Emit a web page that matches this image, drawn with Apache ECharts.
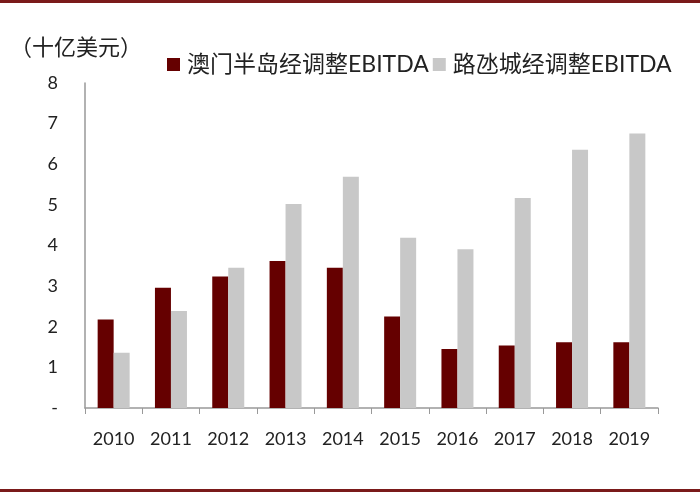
<!DOCTYPE html>
<html>
<head>
<meta charset="utf-8">
<script src="https://cdn.jsdelivr.net/npm/echarts@6/dist/echarts.min.js"></script>
<style>
html,body{margin:0;padding:0;background:#fff;}
#c{width:700px;height:493px;position:relative;}
</style>
</head>
<body>
<div id="c"></div>
<script>
var categories = ['2010','2011','2012','2013','2014','2015','2016','2017','2018','2019'];
var macauPeninsula = [2.18, 2.96, 3.24, 3.62, 3.45, 2.25, 1.45, 1.54, 1.62, 1.62];
var cotai = [1.36, 2.39, 3.45, 5.02, 5.69, 4.19, 3.91, 5.17, 6.36, 6.76];
var seriesNames = ['澳门半岛经调整EBITDA', '路氹城经调整EBITDA'];
var unitLabel = '（十亿美元）';

var chart = echarts.init(document.getElementById('c'));
var latin = 'Lato, "Noto Sans CJK SC", sans-serif';
chart.setOption({
  animation: false,
  backgroundColor: '#fff',
  graphic: [
    {type:'rect', shape:{x:0,y:0,width:700,height:3}, style:{fill:'#7a1a1a'}},
    {type:'rect', shape:{x:0,y:489,width:700,height:3}, style:{fill:'#7a1a1a'}},
    {type:'text', left:10, top:36, style:{text:unitLabel, font:'22px "Noto Sans CJK SC"', fill:'#222'}}
  ],
  legend: {
    left: 162, top: 48,
    itemWidth: 13, itemHeight: 13, itemGap: 4,
    icon: 'rect',
    textStyle: {fontSize: 23, color:'#222', fontFamily: latin, padding:[0,0,0,2]},
    data: seriesNames
  },
  grid: {left: 85, right: 42, top: 83, bottom: 85, containLabel: false},
  xAxis: {
    type: 'category', data: categories,
    axisLine: {lineStyle:{color:'#999', width:1.5}},
    axisTick: {show:true, length:6, lineStyle:{color:'#999'}},
    axisLabel: {fontSize: 18, color:'#222', margin: 22, fontFamily: latin}
  },
  yAxis: {
    type: 'value', min: 0, max: 8, interval: 1,
    axisLine: {show:true, lineStyle:{color:'#999', width:1.5}},
    axisTick: {show:false},
    splitLine: {show:false},
    axisLabel: {fontSize: 18, color:'#222', margin: 27, fontFamily: latin,
      formatter: function(v){ return v === 0 ? '-' : String(v); }}
  },
  series: [
    {name: seriesNames[0], type:'bar', data: macauPeninsula, barWidth: 16, barGap: '0%',
      itemStyle:{color:'#650000'}},
    {name: seriesNames[1], type:'bar', data: cotai, barWidth: 16, barGap: '0%',
      itemStyle:{color:'#c8c8c8'}}
  ]
});
</script>
</body>
</html>
